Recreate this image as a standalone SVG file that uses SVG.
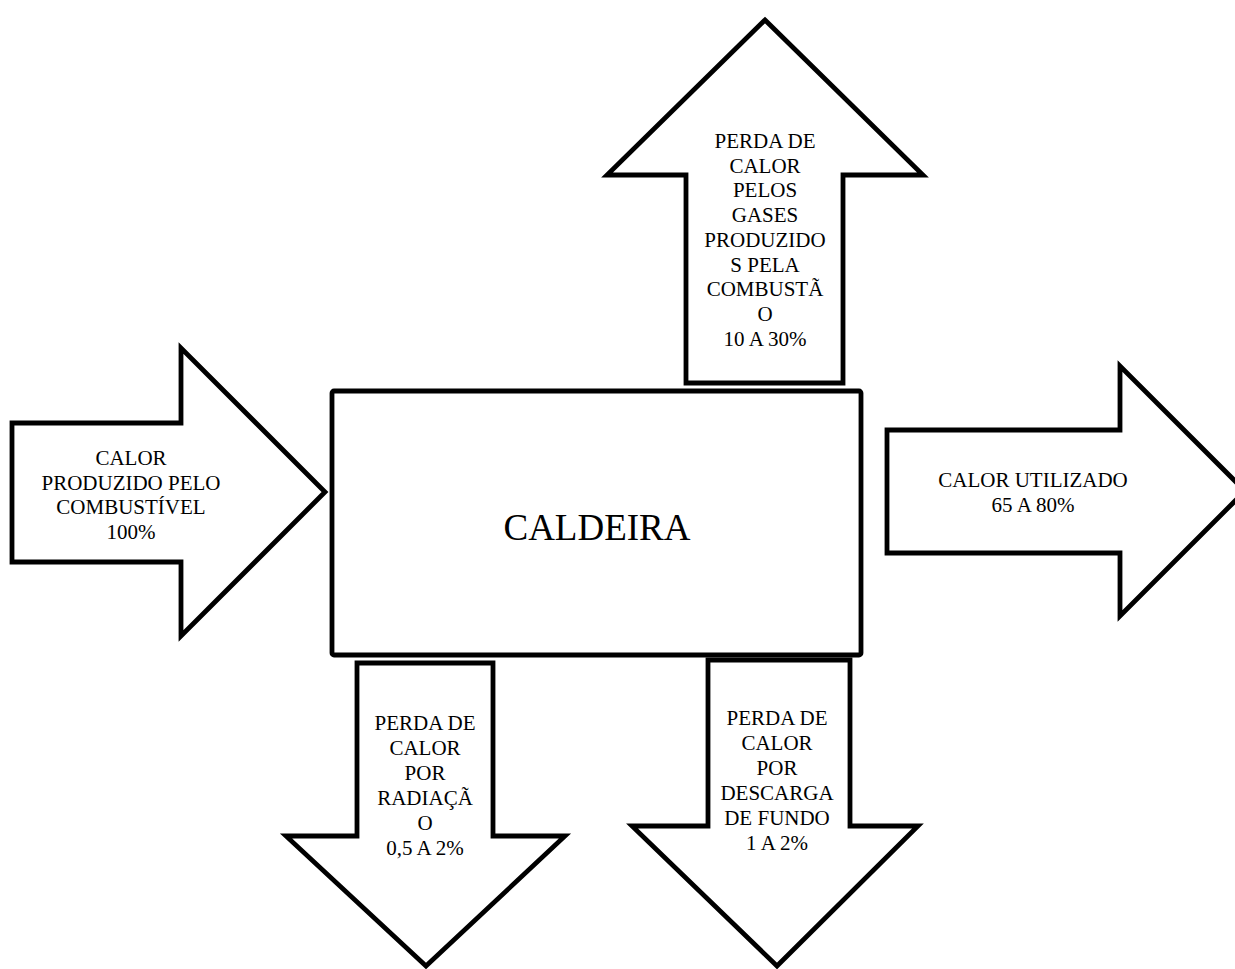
<svg xmlns="http://www.w3.org/2000/svg" width="1235" height="969" viewBox="0 0 1235 969">
<style>
.shape{fill:#fff;stroke:#000;stroke-width:4.8;stroke-linejoin:miter;stroke-miterlimit:10}
.t{font-family:"Liberation Serif","Times New Roman",serif;font-size:21px;fill:#000;text-anchor:middle}
.big{font-family:"Liberation Serif","Times New Roman",serif;font-size:37px;fill:#000;text-anchor:middle}
</style>
<rect width="1235" height="969" fill="#fff"/>
<g id="connectors">
<g id="arrow-top">
<polygon class="shape" points="765,20 923,175 843,175 843,383 686,383 686,175 607,175"/>
<text class="t"><tspan x="765" y="148">PERDA DE</tspan><tspan x="765" y="172.7">CALOR</tspan><tspan x="765" y="197.4">PELOS</tspan><tspan x="765" y="222.1">GASES</tspan><tspan x="765" y="246.8">PRODUZIDO</tspan><tspan x="765" y="271.5">S PELA</tspan><tspan x="765" y="296.2">COMBUSTÃ</tspan><tspan x="765" y="320.9">O</tspan><tspan x="765" y="345.6">10 A 30%</tspan></text>
</g>
<g id="arrow-left">
<polygon class="shape" points="12,423 181,423 181,348 325,492 181,636 181,562 12,562"/>
<text class="t"><tspan x="131" y="465">CALOR</tspan><tspan x="131" y="489.5">PRODUZIDO PELO</tspan><tspan x="131" y="514">COMBUSTÍVEL</tspan><tspan x="131" y="538.5">100%</tspan></text>
</g>
<g id="arrow-right">
<polygon class="shape" points="887,430 1120,430 1120,366 1245,491 1120,616 1120,553 887,553"/>
<text class="t"><tspan x="1033" y="487">CALOR UTILIZADO</tspan><tspan x="1033" y="511.5">65 A 80%</tspan></text>
</g>
<g id="arrow-bottom-left">
<polygon class="shape" points="357,663 493,663 493,836 565,836 426,966 286,836 357,836"/>
<text class="t"><tspan x="425" y="730">PERDA DE</tspan><tspan x="425" y="755">CALOR</tspan><tspan x="425" y="780">POR</tspan><tspan x="425" y="805">RADIAÇÃ</tspan><tspan x="425" y="830">O</tspan><tspan x="425" y="855">0,5 A 2%</tspan></text>
</g>
<g id="arrow-bottom-right">
<polygon class="shape" points="708,660 850,660 850,826 918,826 777,966 632,826 708,826"/>
<text class="t"><tspan x="777" y="725">PERDA DE</tspan><tspan x="777" y="750">CALOR</tspan><tspan x="777" y="775">POR</tspan><tspan x="777" y="800">DESCARGA</tspan><tspan x="777" y="825">DE FUNDO</tspan><tspan x="777" y="850">1 A 2%</tspan></text>
</g>
</g>
<g id="caldeira">
<rect class="shape" x="332" y="391" width="529" height="264" rx="2"/>
<text class="big" x="597" y="540">CALDEIRA</text>
</g>
</svg>
